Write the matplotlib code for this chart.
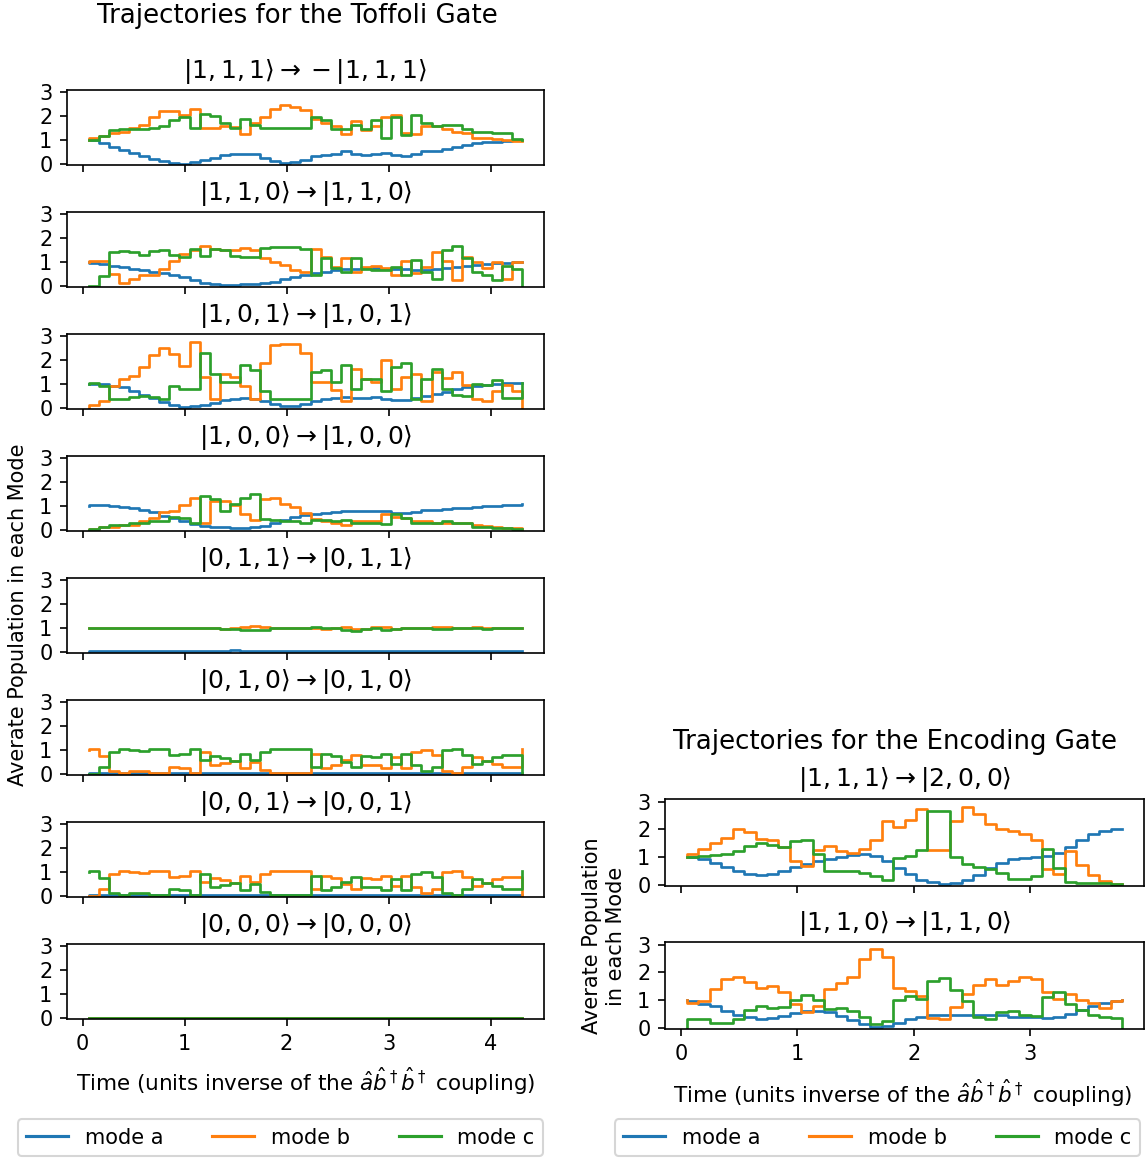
import numpy as np
import matplotlib
matplotlib.use('Agg')
import matplotlib.pyplot as plt
from matplotlib.lines import Line2D

# ---------------- data ----------------
# each series: [start value, step values ..., end value]
toffoli_t_start, toffoli_t_end = 0.06, 4.31
encoding_t_start, encoding_t_end = 0.05, 3.79

toffoli_titles = [
    r'$|1, 1, 1\rangle \rightarrow -|1, 1, 1\rangle$',
    r'$|1, 1, 0\rangle \rightarrow |1, 1, 0\rangle$',
    r'$|1, 0, 1\rangle \rightarrow |1, 0, 1\rangle$',
    r'$|1, 0, 0\rangle \rightarrow |1, 0, 0\rangle$',
    r'$|0, 1, 1\rangle \rightarrow |0, 1, 1\rangle$',
    r'$|0, 1, 0\rangle \rightarrow |0, 1, 0\rangle$',
    r'$|0, 0, 1\rangle \rightarrow |0, 0, 1\rangle$',
    r'$|0, 0, 0\rangle \rightarrow |0, 0, 0\rangle$',
]
encoding_titles = [
    r'$|1, 1, 1\rangle \rightarrow |2, 0, 0\rangle$',
    r'$|1, 1, 0\rangle \rightarrow |1, 1, 0\rangle$',
]
mode_labels = ['mode a', 'mode b', 'mode c']

# Toffoli |1,1,1>
t111_a = [1.0, 1.0, 0.86, 0.72, 0.58, 0.45, 0.31, 0.21, 0.1, 0.03, 0.01,
          0.07, 0.17, 0.26, 0.35, 0.4, 0.43, 0.4, 0.26, 0.1, 0.03,
          0.06, 0.17, 0.31, 0.38, 0.43, 0.52, 0.42, 0.35, 0.43, 0.45,
          0.38, 0.31, 0.4, 0.52, 0.54, 0.63, 0.71, 0.8, 0.86, 0.9,
          0.93, 0.96, 0.99, 1.0]
t111_b = [1.0, 1.1, 1.15, 1.28, 1.35, 1.5, 1.65, 1.95, 2.2, 2.2, 2.05,
          2.3, 1.5, 1.5, 1.6, 1.55, 1.25, 1.7, 1.95, 2.3, 2.45,
          2.4, 2.25, 1.9, 1.7, 1.6, 1.25, 1.8, 1.4, 1.6, 1.95,
          2.05, 1.3, 1.25, 1.6, 1.6, 1.45, 1.35, 1.3, 1.1, 1.1,
          1.05, 1.0, 0.95, 0.95]
t111_c = [1.0, 1.0, 1.15, 1.4, 1.45, 1.47, 1.47, 1.5, 1.6, 1.84, 1.98,
          1.5, 2.08, 2.0, 1.7, 1.5, 1.9, 1.65, 1.5, 1.5, 1.5,
          1.5, 1.5, 1.95, 1.85, 1.45, 1.45, 1.65, 1.45, 1.85, 1.1,
          1.95, 1.2, 2.05, 1.7, 1.6, 1.65, 1.65, 1.45, 1.35, 1.35,
          1.3, 1.3, 1.05, 1.0]
# Toffoli |1,1,0>
t110_a = [1.0, 0.96, 0.9, 0.82, 0.78, 0.72, 0.66, 0.6, 0.52, 0.44, 0.35,
          0.25, 0.13, 0.06, 0.05, 0.05, 0.06, 0.08, 0.12, 0.18, 0.28,
          0.38, 0.45, 0.55, 0.6, 0.66, 0.7, 0.72, 0.73, 0.75, 0.72,
          0.72, 0.7, 0.68, 0.67, 0.7, 0.73, 0.78, 0.82, 0.88, 0.92,
          0.95, 0.97, 1.0, 1.0]
t110_b = [1.0, 1.05, 1.05, 0.5, 0.1, 0.3, 0.45, 0.45, 0.72, 1.05, 1.35,
          1.5, 1.66, 1.55, 1.52, 1.5, 1.58, 1.5, 1.15, 1.0, 0.87,
          0.65, 0.6, 1.56, 1.2, 0.8, 1.15, 0.6, 0.8, 0.85, 0.75,
          0.45, 1.05, 0.55, 0.8, 1.4, 1.05, 0.25, 1.2, 1.0, 0.75,
          1.0, 0.3, 1.0, 1.0]
t110_c = [0.0, 0.0, 0.4, 1.4, 1.45, 1.4, 1.3, 1.47, 1.5, 1.3, 1.22,
          1.55, 1.25, 1.55, 1.5, 1.25, 1.22, 1.22, 1.6, 1.62, 1.62,
          1.62, 1.55, 0.45, 1.15, 0.75, 0.6, 1.15, 0.7, 0.65, 0.65,
          0.8, 0.45, 1.1, 0.6, 0.3, 1.5, 1.66, 1.15, 0.6, 0.45,
          0.25, 0.85, 0.7, 0.0]
# Toffoli |1,0,1>
t101_a = [1.0, 1.02, 1.0, 0.93, 0.88, 0.72, 0.55, 0.4, 0.25, 0.1, 0.05,
          0.06, 0.13, 0.2, 0.33, 0.38, 0.4, 0.37, 0.28, 0.15, 0.07,
          0.07, 0.17, 0.3, 0.37, 0.42, 0.46, 0.42, 0.42, 0.46, 0.38,
          0.32, 0.33, 0.4, 0.5, 0.58, 0.66, 0.78, 0.88, 0.93, 0.97,
          1.0, 1.03, 1.05, 1.05]
t101_b = [0.0, 0.1, 0.3, 0.9, 1.2, 1.35, 1.7, 2.2, 2.5, 2.25, 1.75,
          2.75, 1.3, 0.38, 1.4, 1.3, 0.9, 0.38, 1.9, 2.65, 2.68,
          2.7, 2.3, 1.07, 1.07, 0.75, 0.3, 1.65, 1.2, 1.07, 2.0,
          0.8, 1.3, 1.4, 0.3, 1.5, 1.25, 1.5, 0.95, 0.35, 0.3,
          0.7, 0.95, 0.7, 0.0]
t101_c = [1.0, 1.05, 0.9, 0.38, 0.35, 0.45, 0.5, 0.45, 0.35, 0.9, 0.8,
          0.8, 2.3, 1.4, 1.07, 1.07, 1.8, 1.6, 0.7, 0.38, 0.38,
          0.38, 0.35, 1.5, 1.6, 1.1, 1.8, 0.8, 1.2, 1.2, 0.7,
          1.7, 1.9, 0.35, 1.2, 1.65, 0.8, 0.55, 0.5, 1.0, 0.95,
          1.15, 0.4, 0.4, 1.05]
# Toffoli |1,0,0>
t100_a = [1.0, 1.05, 1.03, 1.0, 0.97, 0.9, 0.82, 0.75, 0.6, 0.48, 0.38,
          0.25, 0.18, 0.13, 0.1, 0.08, 0.08, 0.1, 0.17, 0.3, 0.42,
          0.55, 0.63, 0.68, 0.72, 0.74, 0.78, 0.8, 0.78, 0.8, 0.77,
          0.72, 0.7, 0.75, 0.82, 0.85, 0.88, 0.9, 0.92, 0.96, 0.98,
          1.02, 1.04, 1.06, 1.07]
t100_b = [0.0, 0.03, 0.12, 0.13, 0.2, 0.22, 0.35, 0.5, 0.75, 0.78, 1.05,
          1.35, 0.3, 1.2, 1.2, 1.05, 0.65, 0.4, 1.3, 1.32, 1.1,
          0.95, 0.7, 0.45, 0.38, 0.3, 0.2, 0.38, 0.35, 0.35, 0.65,
          0.55, 0.5, 0.38, 0.35, 0.3, 0.3, 0.3, 0.28, 0.22, 0.15,
          0.1, 0.08, 0.06, 0.05]
t100_c = [0.0, 0.03, 0.12, 0.2, 0.2, 0.3, 0.3, 0.38, 0.38, 0.55, 0.5,
          0.3, 1.4, 1.3, 0.8, 1.1, 1.35, 1.5, 0.45, 0.4, 0.38,
          0.38, 0.3, 0.42, 0.42, 0.38, 0.42, 0.3, 0.3, 0.3, 0.25,
          0.65, 0.5, 0.3, 0.3, 0.3, 0.38, 0.3, 0.28, 0.13, 0.13,
          0.08, 0.06, 0.05, 0.03]
# Toffoli |0,1,1>
t011_a = [0.0, 0.02, 0.02, 0.02, 0.02, 0.02, 0.02, 0.02, 0.02, 0.02, 0.02,
          0.02, 0.02, 0.02, 0.04, 0.06, 0.05, 0.02, 0.02, 0.02, 0.02,
          0.02, 0.02, 0.02, 0.02, 0.02, 0.04, 0.05, 0.02, 0.02, 0.02,
          0.02, 0.02, 0.02, 0.02, 0.02, 0.02, 0.02, 0.02, 0.02, 0.03,
          0.03, 0.02, 0.02, 0.02]
t011_b = [1.0, 1.0, 1.0, 1.0, 1.0, 1.0, 1.0, 1.0, 1.0, 1.0, 1.0,
          1.0, 1.0, 1.0, 0.96, 1.0, 1.05, 1.07, 1.06, 1.0, 1.0,
          1.0, 1.0, 1.0, 0.95, 1.0, 1.05, 0.94, 0.94, 1.05, 1.04,
          0.94, 1.0, 1.0, 1.0, 1.05, 1.04, 1.0, 1.0, 1.03, 1.02,
          1.0, 1.0, 1.0, 1.0]
t011_c = [1.0, 1.0, 1.0, 1.0, 1.0, 1.0, 1.0, 1.0, 1.0, 1.0, 1.0,
          1.0, 1.0, 1.0, 0.96, 0.95, 0.93, 0.9, 0.93, 1.0, 1.0,
          1.0, 1.0, 1.03, 1.02, 1.0, 0.9, 0.88, 0.96, 1.0, 0.92,
          0.97, 1.0, 1.0, 1.0, 0.96, 0.95, 1.0, 1.0, 1.0, 0.95,
          1.0, 1.0, 1.0, 1.0]
# Toffoli |0,1,0>
t010_a = [0.0, 0.03, 0.03, 0.03, 0.03, 0.03, 0.03, 0.03, 0.03, 0.03, 0.03,
          0.03, 0.03, 0.03, 0.03, 0.03, 0.03, 0.03, 0.03, 0.03, 0.03,
          0.03, 0.03, 0.03, 0.03, 0.03, 0.03, 0.03, 0.03, 0.03, 0.03,
          0.03, 0.03, 0.03, 0.03, 0.03, 0.03, 0.03, 0.03, 0.03, 0.03,
          0.03, 0.03, 0.03, 0.03]
t010_b = [1.0, 1.05, 0.75, 0.1, 0.05, 0.1, 0.1, 0.05, 0.05, 0.3, 0.25,
          0.05, 0.9, 0.35, 0.45, 0.55, 0.25, 0.5, 0.15, 0.05, 0.03,
          0.03, 0.05, 0.85, 0.25, 0.35, 0.6, 0.8, 0.35, 0.38, 0.25,
          0.7, 0.25, 0.9, 1.0, 0.8, 0.1, 0.05, 0.3, 0.7, 0.55,
          0.4, 0.3, 0.3, 1.05]
t010_c = [0.0, 0.0, 0.3, 0.9, 1.03, 1.0, 0.95, 1.03, 1.03, 0.8, 0.85,
          1.03, 0.6, 0.75, 0.68, 0.55, 0.85, 0.6, 0.9, 1.03, 1.03,
          1.03, 1.03, 0.3, 0.85, 0.75, 0.5, 0.3, 0.75, 0.72, 0.85,
          0.4, 0.85, 0.35, 0.1, 0.3, 1.0, 1.05, 0.8, 0.4, 0.55,
          0.7, 0.8, 0.8, 0.0]
# Toffoli |0,0,1>
t001_a = [0.0, 0.03, 0.03, 0.03, 0.03, 0.03, 0.03, 0.03, 0.03, 0.03, 0.03,
          0.03, 0.03, 0.03, 0.03, 0.03, 0.03, 0.03, 0.03, 0.03, 0.03,
          0.03, 0.03, 0.03, 0.03, 0.03, 0.03, 0.03, 0.03, 0.03, 0.03,
          0.03, 0.03, 0.03, 0.03, 0.03, 0.03, 0.03, 0.03, 0.03, 0.03,
          0.03, 0.03, 0.03, 0.03]
t001_b = [0.0, 0.0, 0.3, 0.9, 1.03, 1.0, 0.95, 1.03, 1.03, 0.8, 0.85,
          1.03, 0.6, 0.75, 0.68, 0.55, 0.85, 0.6, 0.9, 1.03, 1.03,
          1.03, 1.03, 0.3, 0.85, 0.75, 0.5, 0.3, 0.75, 0.72, 0.85,
          0.4, 0.85, 0.35, 0.1, 0.3, 1.0, 1.05, 0.8, 0.4, 0.55,
          0.7, 0.8, 0.8, 0.0]
t001_c = [1.0, 1.05, 0.75, 0.1, 0.05, 0.1, 0.1, 0.05, 0.05, 0.3, 0.25,
          0.05, 0.9, 0.35, 0.45, 0.55, 0.25, 0.5, 0.15, 0.05, 0.03,
          0.03, 0.05, 0.85, 0.25, 0.35, 0.6, 0.8, 0.35, 0.38, 0.25,
          0.7, 0.25, 0.9, 1.0, 0.8, 0.1, 0.05, 0.3, 0.7, 0.55,
          0.4, 0.3, 0.3, 1.05]
# Toffoli |0,0,0>
t000_a = [0.0, 0.0, 0.0]
t000_b = [0.0, 0.0, 0.0]
t000_c = [0.0, 0.0, 0.0]

# Encoding |1,1,1> -> |2,0,0>
e111_a = [1.0, 1.0, 0.92, 0.8, 0.63, 0.48, 0.4, 0.35, 0.4, 0.5, 0.62,
          0.74, 0.84, 0.94, 1.0, 1.08, 1.1, 1.03, 0.85, 0.6, 0.4,
          0.18, 0.08, 0.04, 0.06, 0.15, 0.35, 0.6, 0.8, 0.92, 0.98,
          1.0, 1.05, 1.15, 1.35, 1.6, 1.82, 1.95, 2.0, 2.0]
e111_b = [1.0, 1.1, 1.3, 1.5, 1.7, 2.0, 1.9, 1.65, 1.6, 1.35, 0.85,
          0.67, 1.25, 1.4, 1.2, 1.15, 1.3, 1.6, 2.3, 2.1, 2.35,
          2.72, 1.25, 1.25, 2.3, 2.8, 2.55, 2.2, 2.0, 1.95, 1.85,
          1.6, 0.55, 0.4, 1.2, 0.7, 0.35, 0.12, 0.03, 0.02]
e111_c = [1.0, 1.0, 1.05, 1.07, 1.12, 1.2, 1.4, 1.5, 1.45, 1.38, 1.58,
          1.6, 1.1, 0.5, 0.5, 0.5, 0.42, 0.3, 0.15, 0.97, 1.05,
          1.25, 2.68, 2.68, 1.0, 0.75, 0.65, 0.55, 0.42, 0.2, 0.2,
          0.3, 1.3, 0.6, 0.08, 0.06, 0.05, 0.05, 0.04, 0.02]
# Encoding |1,1,0> -> |1,1,0>
e110_a = [1.0, 0.98, 0.87, 0.78, 0.6, 0.45, 0.37, 0.32, 0.35, 0.42, 0.52,
          0.6, 0.6, 0.55, 0.43, 0.27, 0.12, 0.03, 0.05, 0.15, 0.3,
          0.4, 0.46, 0.46, 0.46, 0.46, 0.46, 0.46, 0.44, 0.4, 0.38,
          0.37, 0.36, 0.38, 0.48, 0.65, 0.78, 0.88, 0.98, 1.0]
e110_b = [1.0, 0.9, 0.95, 1.4, 1.75, 1.83, 1.65, 1.45, 1.5, 1.3, 0.85,
          0.55, 0.8, 1.4, 1.62, 1.85, 2.5, 2.85, 2.55, 1.45, 1.33,
          1.15, 0.35, 0.3, 0.75, 1.2, 1.55, 1.75, 1.55, 1.7, 1.85,
          1.75, 1.3, 1.05, 1.2, 1.0, 0.9, 0.7, 0.95, 1.0]
e110_c = [0.0, 0.3, 0.3, 0.17, 0.15, 0.3, 0.65, 0.8, 0.7, 0.75, 1.0,
          1.18, 1.0, 0.67, 0.7, 0.6, 0.4, 0.12, 0.25, 1.0, 1.15,
          1.05, 1.7, 1.8, 1.35, 0.95, 0.4, 0.3, 0.55, 0.6, 0.45,
          0.42, 1.1, 1.3, 0.85, 0.65, 0.45, 0.38, 0.35, 0.0]

toffoli_data = [
    (t111_a, t111_b, t111_c), (t110_a, t110_b, t110_c),
    (t101_a, t101_b, t101_c), (t100_a, t100_b, t100_c),
    (t011_a, t011_b, t011_c), (t010_a, t010_b, t010_c),
    (t001_a, t001_b, t001_c), (t000_a, t000_b, t000_c),
]
encoding_data = [(e111_a, e111_b, e111_c), (e110_a, e110_b, e110_c)]

# ---------------- figure ----------------
W, H, DPI = 1146, 1158, 150
fig = plt.figure(figsize=(W / DPI, H / DPI), dpi=DPI)
colors = ['C0', 'C1', 'C2']
LW = 1.3


def fx(px):
    return px / W


def fy(py):
    return 1 - py / H


def draw_series(ax, vals, t0, t1, color):
    vals = np.asarray(vals, dtype=float)
    n = len(vals) - 2
    edges = np.linspace(t0, t1, n + 1)
    xs = np.r_[t0, edges]
    ax.step(xs, vals, where='post', color=color, lw=LW)


def make_axes(left, right, top, bottom, share=None):
    return fig.add_axes([fx(left), fy(bottom), fx(right) - fx(left),
                         fy(top) - fy(bottom)], sharex=share)


# Left column: Toffoli
left_axes = []
for i, (title, series) in enumerate(zip(toffoli_titles, toffoli_data)):
    top = 90 + 122 * i
    ax = make_axes(67, 544, top, top + 75, left_axes[0] if left_axes else None)
    for vals, c in zip(series, colors):
        draw_series(ax, vals, toffoli_t_start, toffoli_t_end, c)
    ax.set_ylim(-0.05, 3.1)
    ax.set_yticks([0, 1, 2, 3])
    ax.set_xticks([0, 1, 2, 3, 4])
    ax.set_title(title, fontsize=12)
    if i < len(toffoli_titles) - 1:
        ax.tick_params(labelbottom=False)
    left_axes.append(ax)

# Right column: Encoding
right_axes = []
for i, (title, series) in enumerate(zip(encoding_titles, encoding_data)):
    top = 799 + 143 * i
    ax = make_axes(665, 1144, top, top + 87, right_axes[0] if right_axes else None)
    for vals, c in zip(series, colors):
        draw_series(ax, vals, encoding_t_start, encoding_t_end, c)
    ax.set_ylim(-0.05, 3.1)
    ax.set_yticks([0, 1, 2, 3])
    ax.set_xticks([0, 1, 2, 3])
    ax.set_title(title, fontsize=12)
    if i < len(encoding_titles) - 1:
        ax.tick_params(labelbottom=False)
    right_axes.append(ax)

xlabel = r'Time (units inverse of the $\hat{a}\hat{b}^\dagger\hat{b}^\dagger$ coupling)'
fig.text(fx(306), fy(1081), xlabel, ha='center', va='center', fontsize=10.3)
fig.text(fx(903), fy(1093), xlabel, ha='center', va='center', fontsize=10.3)

fig.text(fx(18), fy(615), 'Averate Population in each Mode', rotation=90,
         ha='center', va='center', fontsize=10)
fig.text(fx(604), fy(936), 'Averate Population\nin each Mode', rotation=90,
         ha='center', va='center', multialignment='center', fontsize=10)

fig.text(fx(297), fy(16), 'Trajectories for the Toffoli Gate',
         ha='center', va='center', fontsize=12.5)
fig.text(fx(895), fy(742), 'Trajectories for the Encoding Gate',
         ha='center', va='center', fontsize=12.5)

handles = [Line2D([], [], color=c, lw=1.5) for c in colors]
fig.legend(handles, mode_labels, loc='lower left', ncol=3, mode='expand',
           borderaxespad=0,
           bbox_to_anchor=(fx(18), fy(1156), fx(543) - fx(18), fy(1118) - fy(1156)))
fig.legend(handles, mode_labels, loc='lower left', ncol=3, mode='expand',
           borderaxespad=0,
           bbox_to_anchor=(fx(615), fy(1156), fx(1140) - fx(615), fy(1118) - fy(1156)))

fig.savefig('out.png', dpi=DPI)
